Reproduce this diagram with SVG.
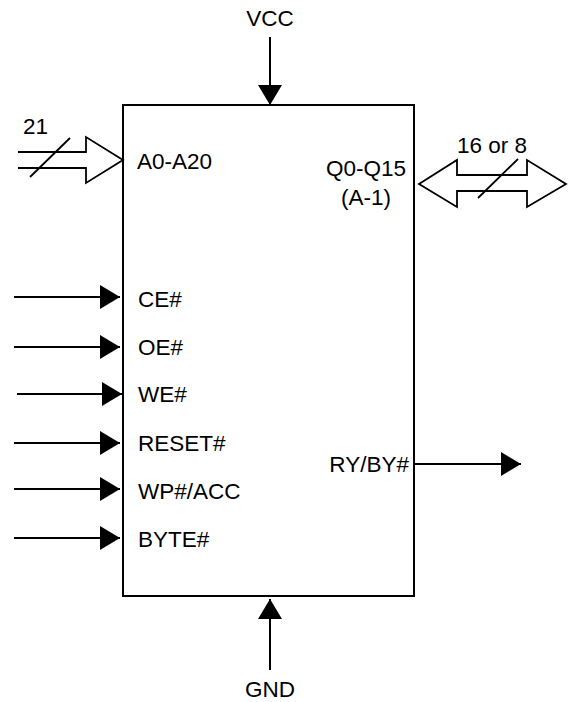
<svg xmlns="http://www.w3.org/2000/svg" width="570" height="702" viewBox="0 0 570 702">
<style>
text{font-family:"Liberation Sans",Arial,sans-serif;font-size:22.5px;fill:#000}
.ln{stroke:#000;stroke-width:2;fill:none}
.bus{stroke:#000;stroke-width:1.8;fill:#fff;stroke-linejoin:miter}
.sl{stroke:#000;stroke-width:1.8}
</style>
<defs>
<marker id="ah" markerUnits="userSpaceOnUse" markerWidth="20" markerHeight="24" refX="20" refY="12" orient="auto">
<path d="M0,0 L20,12 L0,24 Z" fill="#000"/>
</marker>
</defs>
<rect width="570" height="702" fill="#fff"/>
<g id="chip">
<rect x="123" y="105" width="291" height="491" fill="#fff" stroke="#000" stroke-width="2"/>
<text x="137" y="169">A0-A20</text>
<text x="366" y="176" text-anchor="middle">Q0-Q15</text>
<text x="366" y="205" text-anchor="middle">(A-1)</text>
<text x="138" y="307">CE#</text>
<text x="138" y="355">OE#</text>
<text x="138" y="402">WE#</text>
<text x="138" y="451">RESET#</text>
<text x="138" y="499">WP#/ACC</text>
<text x="138" y="547">BYTE#</text>
<text x="409" y="472" text-anchor="end">RY/BY#</text>
</g>
<g id="vcc"><text x="270" y="26" text-anchor="middle">VCC</text></g>
<g id="gnd"><text x="270" y="697" text-anchor="middle">GND</text></g>
<g id="addr-bus">
<path class="bus" d="M18,152 H86 V137 L123,160 L86,183 V168 H18"/>
<line class="sl" x1="30" y1="177" x2="70" y2="138"/>
<text x="23" y="134">21</text>
</g>
<g id="data-bus">
<path class="bus" d="M419,184 L457,160 V175 H527 V160 L566,184 L527,207 V191 H457 V207 Z"/>
<line class="sl" x1="478" y1="198" x2="518" y2="159"/>
<text x="492" y="153" text-anchor="middle">16 or 8</text>
</g>
<g id="connectors">
<line class="ln" x1="270" y1="37" x2="270" y2="105" marker-end="url(#ah)"/>
<line class="ln" x1="270" y1="670" x2="270" y2="599" marker-end="url(#ah)"/>
<line class="ln" x1="14" y1="297" x2="120" y2="297" marker-end="url(#ah)"/>
<line class="ln" x1="14" y1="347" x2="120" y2="347" marker-end="url(#ah)"/>
<line class="ln" x1="17" y1="394" x2="122" y2="394" marker-end="url(#ah)"/>
<line class="ln" x1="14" y1="443" x2="120" y2="443" marker-end="url(#ah)"/>
<line class="ln" x1="14" y1="489" x2="120" y2="489" marker-end="url(#ah)"/>
<line class="ln" x1="14" y1="538" x2="120" y2="538" marker-end="url(#ah)"/>
<line class="ln" x1="414" y1="464" x2="521" y2="464" marker-end="url(#ah)"/>
</g>
</svg>
